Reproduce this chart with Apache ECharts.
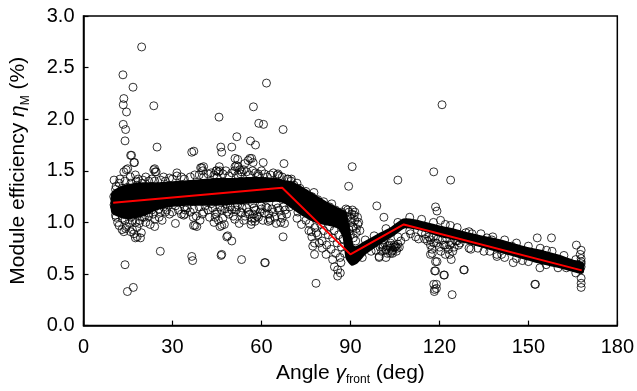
<!DOCTYPE html>
<html>
<head>
<meta charset="utf-8">
<script src="https://cdn.jsdelivr.net/npm/echarts@6/dist/echarts.min.js"></script>
<style>html,body{margin:0;padding:0;background:#fff}#c{width:637px;height:391px}</style>
</head>
<body>
<div id="c"></div>
<script>
// Fitted piecewise line (red)
const lineX = [10, 67, 90, 108, 168];
const lineY = [1.19, 1.335, 0.69, 0.98, 0.535];

// Dense core of the point cloud (upper / lower envelope)
const bandX  = [10, 12, 15, 20, 25, 30, 35, 40, 45, 50, 55, 60, 65, 68, 70, 74, 78, 82, 86, 88, 89, 90.5, 92, 95, 100, 104, 108, 112, 116, 120, 125, 130, 135, 140, 145, 150, 155, 160, 165, 168];
const bandHi = [1.28,1.32,1.35,1.37,1.37,1.38,1.39,1.40,1.41,1.41,1.42,1.42,1.41,1.39,1.38,1.32,1.25,1.18,1.12,1.09,0.97,0.77,0.75,0.80,0.88,0.94,1.02,1.01,0.98,0.95,0.92,0.88,0.85,0.82,0.78,0.74,0.71,0.67,0.62,0.60];
const bandLo = [1.10,1.07,1.05,1.08,1.14,1.17,1.18,1.18,1.18,1.19,1.20,1.21,1.22,1.20,1.16,1.08,1.02,0.99,0.96,0.86,0.66,0.60,0.62,0.71,0.81,0.88,0.96,0.95,0.92,0.88,0.85,0.81,0.77,0.73,0.69,0.65,0.61,0.58,0.54,0.52];

const outliers = [
[19.6,2.70],[13.3,2.43],[16.7,2.31],[13.6,2.20],[13.4,2.14],[14.5,2.07],[23.7,2.13],[13.4,1.95],[14.2,1.90],[14.0,1.79],[24.8,1.73],[15.9,1.65],[17.0,1.58],[13.6,1.49],[14.9,1.52],[24.0,1.52],[24.5,1.49],[10.3,1.41],[18.4,1.42],[22.0,1.40],[27.6,1.40],[31.5,1.48],[37.2,1.69],[39.5,1.53],[40.2,1.50],[45.7,2.02],[46.3,1.73],[50.0,1.73],[51.7,1.83],[44.7,1.50],[45.8,1.54],[46.0,1.50],[51.1,1.54],[51.6,1.55],[52.0,1.61],[55.5,1.60],[56.1,1.62],[56.3,1.79],[58.0,1.75],[57.3,2.12],[59.1,1.96],[60.7,1.95],[61.7,2.35],[67.3,1.90],[67.6,1.57],[60.6,1.58],[65.4,1.46],[68.7,1.42],[77.7,1.29],[58.9,1.47],[53.3,1.49],
[120.9,2.14],[90.6,1.54],[89.4,1.35],[106.0,1.41],[118.1,1.49],[123.8,1.41],
[14.0,0.59],[14.8,0.33],[16.8,0.37],[25.9,0.72],[36.5,0.67],[36.8,0.63],[46.4,0.68],[53.3,0.64],[61.3,0.61],[67.3,0.86],[50.0,0.82],[48.6,0.87],[24.0,0.96],[31.0,0.99],[34.1,1.08],[37.1,0.97],[38.2,0.96],[40.5,1.10],[39.3,1.02],[44.4,1.05],[46.0,0.96],[17.5,0.85],[19.2,0.85],[13.6,0.91],[15.9,0.91],[78.4,0.41],[77.9,0.69],[57.8,1.01],[62.3,1.01],[67.8,0.99],[57.3,1.08],[56.8,1.04],
[83.7,1.18],[89.1,1.12],[90.7,1.12],[91.3,1.07],[98.9,1.16],[85.7,0.48],[86.6,0.51],[84.6,0.57],[99.7,0.66],[101.9,0.73],[104.2,0.73],[105.8,0.75],[118.7,1.15],[119.2,1.11],[117.6,0.70],[118.7,0.62],[118.7,0.53],[118.1,0.40],[119.0,0.36],[118.3,0.33],[121.7,0.49],[124.3,0.30],[128.2,0.54],[124.0,0.64],[123.4,0.69],[153.0,0.85],[157.8,0.85],[152.2,0.40],[166.2,0.78],[167.8,0.73],[167.8,0.65],[167.8,0.60],[167.8,0.46],[167.8,0.37],[167.8,0.41],[144.9,0.61],[153.9,0.56],[156.1,0.73],[139.4,0.69],[130.6,0.74],[128.9,0.90],
[16.2,1.65],[17.2,1.58],[14.4,1.51],[17.5,1.46],[23.7,1.51],[24.2,1.49],[39.9,1.53],[36.5,1.68],
[33.8,1.07],[37.6,0.97],[14.2,0.94],[17.0,0.89],[18.1,0.86],[10.8,1.07],[13.1,1.04],[16.4,1.02],[19.8,1.05],[22.0,1.09],[25.4,1.13],[27.6,1.10],[28.7,1.17],[34.3,1.12],[37.1,1.13],[10.3,1.17],
[44.9,1.50],[45.5,1.49],[51.1,1.62],[52.2,1.54],[52.7,1.51],[54.4,1.57],[56.7,1.62],[57.2,1.58],[65.6,1.47],[70.1,1.42],[40.5,1.54],[46.6,1.68],
[46.6,0.97],[48.3,0.86],[46.6,0.69],[61.1,0.61],[56.7,1.01],[57.7,1.04],[62.8,1.04],[65.0,0.99],[66.7,1.07],[47.7,1.13],[51.1,1.15],[53.3,1.09],[60.0,1.13],[76.8,0.91],
[72.3,1.10],[76.2,0.99],[77.9,0.80],[77.3,0.77],[81.8,0.69],[84.0,0.64],[85.7,0.54],[86.8,0.61],[98.6,0.73],[99.7,0.67],[103.6,0.75],[104.7,0.78],[102.5,0.77],[88.5,1.13],[92.4,1.05],[101.3,1.05],
[120.4,1.02],[123.7,0.97],[115.3,0.89],[117.0,0.83],[118.1,0.80],[117.0,0.69],[122.0,0.69],[119.2,0.62],[118.4,0.53],[121.5,0.49],[128.4,0.54],[119.0,0.40],[118.4,0.35],[105.3,0.77],[104.2,0.70],[108.6,0.86],[110.3,0.89],[131.0,0.89],[136.0,0.85],
[137.7,0.83],[144.4,0.77],[152.4,0.40],[139.4,0.67],[162.8,0.56],[167.5,0.69],[167.8,0.62],[167.8,0.57]
];

// Points in the half-dense fringes around the core
const fringe = [
[10.5,1.15],[11,1.05],[11.5,1.00],[12,0.97],[12.5,1.12],[13,0.93],[13.5,1.08],[14,1.02],[14.5,0.96],[15,1.10],[15.5,0.99],[16,1.05],[16.5,0.93],[17,1.12],[17.5,1.00],[18,0.95],[18.5,1.08],[19,1.02],[19.5,0.90],[20,1.10],[21,1.00],[22,1.06],[23,1.12],[24,1.03],[26,1.10],[27,1.15],[29,1.08],[32,1.12],[34,1.15],[36,1.10],[38,1.06],[42,1.12],[43,1.18],[44,1.00],[45,1.10],[46,1.15],[47,1.04],[48,1.18],[49,1.08],[50,1.12],[51,1.03],[52,1.17],[53,1.10],[54,1.02],[55,1.14],[56,1.08],[57,1.18],[58,1.12],[59,1.05],[60,1.16],[61,1.09],[62,1.14],[63,1.02],[64,1.10],[65,1.18],[66,1.12],[67,1.04],[68,1.12],
[11,1.35],[12,1.38],[13,1.33],[14,1.40],[16,1.38],[18,1.36],[20,1.41],[23,1.42],[26,1.41],[29,1.43],[33,1.44],[36,1.44],[39,1.46],[42,1.47],[44,1.46],[47,1.47],[50,1.48],[53,1.47],[55,1.49],[58,1.48],[61,1.47],[63,1.46],[66,1.45],[69,1.42],[72,1.38],
[78,0.95],[79,0.88],[80,0.98],[80.5,0.82],[81,0.92],[82,0.78],[82.5,0.88],[83,0.96],[83.5,0.74],[84,0.85],[84.5,0.92],[85,0.70],[85.5,0.80],[86,0.88],[86.5,0.66],[87,0.76],[87.5,0.84],[88,0.70],[88.5,0.90],
[89,1.05],[90,1.00],[90.5,1.08],[91,0.95],[91.5,1.02],[92,0.90],[92.5,0.98],[89.5,0.93],
[101,0.76],[102,0.74],[103,0.78],[104,0.72],[105,0.76],[106,0.79],[103.5,0.70],
[116,0.82],[117,0.78],[118,0.86],[119,0.80],[120,0.76],[121,0.83],[122,0.78],[123,0.74],[124,0.80],[125,0.76],[126,0.82],
[95,0.83],[98,0.87],[102,0.94],[106,1.00],[110,1.05],[114,1.03],[118,1.00],[122,0.98],[126,0.95],[130,0.91],[134,0.89],[138,0.86],[142,0.83],[146,0.80],[150,0.77],[154,0.75],[158,0.72],[162,0.68],[166,0.64],
[94,0.66],[97,0.72],[101,0.78],[106,0.86],[110,0.92],[114,0.90],[127,0.80],[133,0.75],[137,0.72],[141,0.69],[146,0.65],[150,0.62],[156,0.59],[160,0.56],[166,0.51],
[130,0.75],[135,0.72],[142,0.66],[148,0.63],[158,0.62],[164,0.58],
[10.2,1.25],[10.8,1.32],[11.3,1.20],[11.8,1.28],[12.3,1.42],[12.8,1.18],[13.2,1.30],[13.8,1.22],[14.3,1.13],[14.8,1.34],[15.3,1.18],[15.8,1.44],[16.3,1.12],[16.8,1.30],[17.3,1.20],[17.8,1.40],[18.3,1.16],[18.8,0.99],[19.3,1.12],[19.8,1.38],[20.5,1.05],[21.5,1.15],[22.5,0.98],[23.5,1.08],[24.5,1.16],[25.5,1.05],
[26.5,1.02],[28,1.12],[30,1.10],[31,1.16],[33,1.08],[35,1.14],[37,1.05],[39,1.15],[40,1.08],[41,1.16],[42.5,1.05],[43.5,1.14],[44.5,1.08],[45.5,1.02],[46.5,1.12],[47.5,0.98],[48.5,1.10],[49.5,1.15],[50.5,1.06],[51.5,1.12],[52.5,0.99],[53.5,1.14],[54.5,1.06],[55.5,1.10],[56.5,0.98],[57.5,1.14],[58.5,1.06],[59.5,1.10],[60.5,1.02],[61.5,1.15],[62.5,1.08],[63.5,1.13],[64.5,1.05],[65.5,1.14],[66.5,1.00],[67.5,1.15],[68.5,1.08],[69.5,1.15],
[21,1.44],[24,1.40],[27,1.44],[30,1.42],[31.5,1.45],[34,1.42],[37.5,1.46],[40.5,1.44],[43,1.48],[45,1.44],[48,1.50],[49,1.45],[51,1.50],[52,1.46],[54,1.51],[56,1.46],[57,1.50],[59,1.45],[60,1.50],[62,1.44],[64,1.48],[67,1.44],[70,1.40],[71,1.36],[73,1.33],[75,1.30],[77,1.25],[79,1.22],[81,1.20],[83,1.15],[85,1.12],[87,1.10],
[72,1.04],[73.5,0.98],[75,1.02],[76,0.92],[77,0.86],[78.5,0.90],[79.5,0.80],[80.5,0.75],
[84.5,1.05],[85.5,1.10],[86.5,1.03],[87.5,1.08],[88.5,1.00],[89.5,1.10],[90.2,1.04],[90.8,0.96],[91.5,1.10],[92,0.94],[92.8,1.00],[93.2,0.92],[89,0.85],[90,0.88],[91,0.85],[91.8,0.82],
[100.5,0.72],[101.5,0.80],[102.5,0.70],[103.5,0.80],[104.5,0.76],[105.5,0.72],[106.5,0.76],[107,0.82],[102,0.66],[100,0.76],
[115,0.84],[116.5,0.86],[117.5,0.74],[119.5,0.84],[120.5,0.72],[121.5,0.78],[122.5,0.84],[123.5,0.78],[124.5,0.72],[125.5,0.82],[126.5,0.78],[127.5,0.84],[112,0.86],[113,0.84]
];

const xMin = 0, xMax = 180, xStep = 30;
const yMin = 0, yMax = 3, yStep = 0.5;

const FONT = '"Liberation Sans", Arial, sans-serif';
const chart = echarts.init(document.getElementById('c'), null, {renderer: 'canvas'});
const circleStyle = {color: 'rgba(0,0,0,0)', borderColor: '#000', borderWidth: 1};

chart.setOption({
  animation: false,
  grid: {left: 81, right: 19, top: 16, bottom: 63, show: true, borderColor: '#000', borderWidth: 1.5, backgroundColor: 'transparent'},
  xAxis: {
    type: 'value', min: xMin, max: xMax, interval: xStep,
    axisLine: {show: true, onZero: false, lineStyle: {color: '#000', width: 1.5}},
    axisTick: {show: true, inside: true, length: 5, lineStyle: {color: '#000', width: 1.2}},
    splitLine: {show: false},
    axisLabel: {color: '#000', fontSize: 20, fontFamily: FONT, margin: 12},
    name: '{t|Angle }{i|γ}{s|front}{t| (deg)}',
    nameLocation: 'middle', nameGap: 31,
    nameTextStyle: {
      color: '#000', fontFamily: FONT, fontSize: 21,
      rich: {
        t: {fontSize: 21, fontFamily: FONT, color: '#000', lineHeight: 26},
        i: {fontSize: 21, fontFamily: FONT, fontStyle: 'italic', color: '#000', lineHeight: 26},
        s: {fontSize: 12, fontFamily: FONT, color: '#000', verticalAlign: 'bottom', lineHeight: 26}
      }
    }
  },
  yAxis: {
    type: 'value', min: yMin, max: yMax, interval: yStep,
    axisLine: {show: true, onZero: false, lineStyle: {color: '#000', width: 1.5}},
    axisTick: {show: true, inside: true, length: 5, lineStyle: {color: '#000', width: 1.2}},
    splitLine: {show: false},
    axisLabel: {color: '#000', fontSize: 20, fontFamily: FONT, margin: 9, formatter: v => v.toFixed(1)},
    name: '{t|Module efficiency }{i|η}{s|M}{t| (%)}',
    nameLocation: 'middle', nameGap: 52,
    nameTextStyle: {
      color: '#000', fontFamily: FONT, fontSize: 21,
      rich: {
        t: {fontSize: 21, fontFamily: FONT, color: '#000', lineHeight: 26},
        i: {fontSize: 21, fontFamily: FONT, fontStyle: 'italic', color: '#000', lineHeight: 26},
        s: {fontSize: 12, fontFamily: FONT, color: '#000', verticalAlign: 'bottom', lineHeight: 26}
      }
    }
  },
  series: [
    {
      type: 'custom', silent: true, z: 1,
      data: [[bandX[0], bandHi[0]]],
      renderItem: (params, api) => {
        const pts = [];
        for (let i = 0; i < bandX.length; i++) pts.push(api.coord([bandX[i], bandHi[i]]));
        for (let i = bandX.length - 1; i >= 0; i--) pts.push(api.coord([bandX[i], bandLo[i]]));
        return {type: 'polygon', shape: {points: pts, smooth: 0.2}, style: {fill: '#000', stroke: '#000', lineWidth: 4}};
      }
    },
    {type: 'scatter', z: 2, symbol: 'circle', symbolSize: 8, itemStyle: circleStyle, data: fringe, silent: true},
    {type: 'scatter', z: 2, symbol: 'circle', symbolSize: 8, itemStyle: circleStyle, data: outliers, silent: true},
    {
      type: 'line', z: 5, symbol: 'none', silent: true,
      lineStyle: {color: '#ff0000', width: 2},
      data: lineX.map((x, i) => [x, lineY[i]])
    }
  ]
});
</script>
</body>
</html>
